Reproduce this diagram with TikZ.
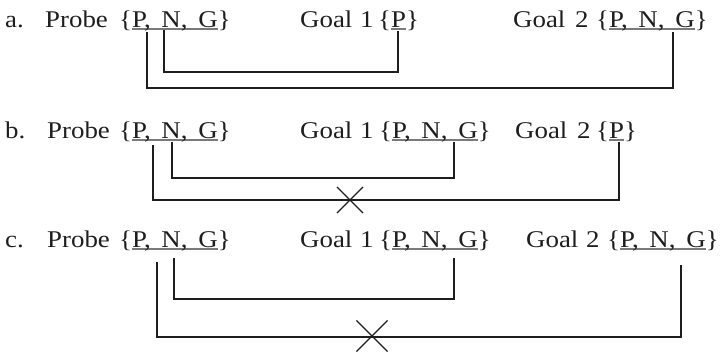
\documentclass[tikz,border=0pt]{standalone}
\usepackage{fontspec}
\setmainfont[FakeStretch=1.12]{Liberation Serif}
\usetikzlibrary{shapes.misc}
\definecolor{ink}{HTML}{1E1E1E}
\definecolor{ulc}{HTML}{7A7A7A}
\newsavebox\ulbox
\newcommand\ulg[1]{\sbox\ulbox{#1}\rlap{\color{ulc}\rule[-2.5pt]{\wd\ulbox}{1.2pt}}\usebox\ulbox}
\tikzset{
  lbl/.style={anchor=base west, inner sep=0pt, font=\fontsize{24}{28}\selectfont, text=ink},
  conn/.style={draw=ink, line width=1.3pt},
  xmark/.style={draw=ink, line width=1.1pt, cross out, inner sep=0pt, minimum size=#1},
}
\begin{document}
\begin{tikzpicture}[x=1pt,y=-1pt]
\useasboundingbox (0,0) rectangle (720,351);
% ---- row a ----
\node[lbl] (aL) at (5,27) {a.};
\node[lbl] (aPr) at (45,27) {Probe};
\node[lbl] (aPs) at (119,27) {\{\ulg{P,\, N,\, G}\}};
\node[lbl] (aG1) at (300,27) {Goal};
\node[lbl] (aG1n) at (360,27) {1};
\node[lbl] (aG1s) at (378,27) {\{\ulg{P}\}};
\node[lbl] (aG2) at (513,27) {Goal};
\node[lbl] (aG2n) at (575,27) {2};
\node[lbl] (aG2s) at (596,27) {\{\ulg{P,\, N,\, G}\}};
\coordinate (aP) at (147,32);
\coordinate (aN) at (164,30);
\coordinate (aNlow) at (164,72);
\coordinate (aPlow) at (147,88);
\coordinate (aT1) at (398,31);
\coordinate (aT2) at (673,32);
\draw[conn] (aN) -- (aNlow) -| (aT1);
\draw[conn] (aP) -- (aPlow) -| (aT2);
% ---- row b ----
\node[lbl] (bL) at (5,138) {b.};
\node[lbl] (bPr) at (47,138) {Probe};
\node[lbl] (bPs) at (119,138) {\{\ulg{P,\, N,\, G}\}};
\node[lbl] (bG1) at (300,138) {Goal};
\node[lbl] (bG1n) at (360,138) {1};
\node[lbl] (bG1s) at (379,138) {\{\ulg{P,\, N,\, G}\}};
\node[lbl] (bG2) at (515,138) {Goal};
\node[lbl] (bG2n) at (577,138) {2};
\node[lbl] (bG2s) at (596,138) {\{\ulg{P}\}};
\coordinate (bP) at (153,145);
\coordinate (bN) at (172,142);
\coordinate (bNlow) at (172,178);
\coordinate (bPlow) at (153,200);
\coordinate (bT1) at (454,142);
\coordinate (bT2) at (619,142);
\draw[conn] (bN) -- (bNlow) -| (bT1);
\draw[conn] (bP) -- (bPlow) -| (bT2);
\node[xmark=25pt] (bX) at (350,200) {};
% ---- row c ----
\node[lbl] (cL) at (5,247) {c.};
\node[lbl] (cPr) at (47,247) {Probe};
\node[lbl] (cPs) at (119,247) {\{\ulg{P,\, N,\, G}\}};
\node[lbl] (cG1) at (300,247) {Goal};
\node[lbl] (cG1n) at (360,247) {1};
\node[lbl] (cG1s) at (379,247) {\{\ulg{P,\, N,\, G}\}};
\node[lbl] (cG2) at (526,247) {Goal};
\node[lbl] (cG2n) at (586,247) {2};
\node[lbl] (cG2s) at (607,247) {\{\ulg{P,\, N,\, G}\}};
\coordinate (cP) at (157,262);
\coordinate (cN) at (174,258);
\coordinate (cNlow) at (174,299);
\coordinate (cPlow) at (157,337);
\coordinate (cT1) at (454,258);
\coordinate (cT2) at (681,265);
\draw[conn] (cN) -- (cNlow) -| (cT1);
\draw[conn] (cP) -- (cPlow) -| (cT2);
\node[xmark=30pt] (cX) at (372,336) {};
\end{tikzpicture}
\end{document}
